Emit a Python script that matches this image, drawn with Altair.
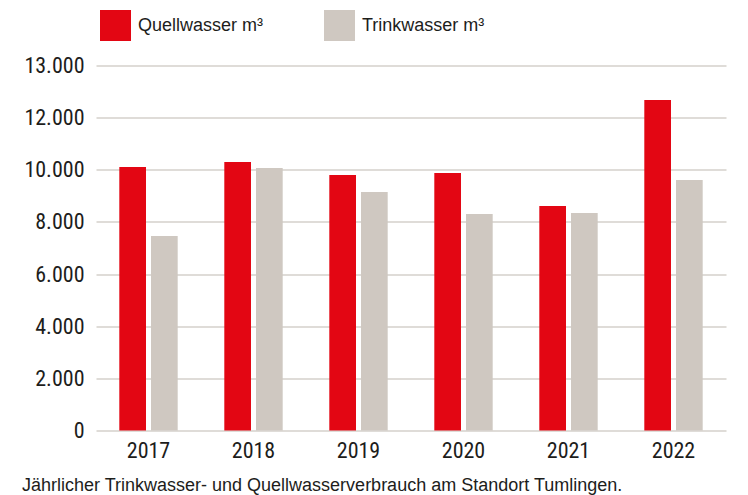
import altair as alt
import pandas as pd

# ---- data ----
years = ["2017", "2018", "2019", "2020", "2021", "2022"]
quellwasser = [10110, 10300, 9800, 9880, 8610, 12680]
trinkwasser = [7460, 10070, 9150, 8300, 8340, 9610]
series = ["Quellwasser m³", "Trinkwasser m³"]
colors = ["#e30613", "#cfc8c1"]
y_tick_values = [0, 2000, 4000, 6000, 8000, 10000, 12000, 14000]
y_tick_labels = ["0", "2.000", "4.000", "6.000", "8.000", "10.000", "12.000", "13.000"]
caption = "Jährlicher Trinkwasser- und Quellwasserverbrauch am Standort Tumlingen."

NARROW = "Liberation Sans Narrow, Arial Narrow, Roboto Condensed, sans-serif"
REGULAR = "Liberation Sans, Arial, Helvetica, sans-serif"
TEXT = "#1d1d1b"
GRID = "#d5d1cb"

rows = []
for i, yr in enumerate(years):
    rows.append({"Jahr": yr, "Serie": series[0], "Wert": quellwasser[i]})
    rows.append({"Jahr": yr, "Serie": series[1], "Wert": trinkwasser[i]})
df = pd.DataFrame(rows)

label_expr = "''"
for v, l in reversed(list(zip(y_tick_values, y_tick_labels))):
    label_expr = f"datum.value == {v} ? '{l}' : ({label_expr})"

chart = alt.Chart(df).mark_bar().encode(
    x=alt.X(
        "Jahr:N", sort=years,
        scale=alt.Scale(paddingInner=0, paddingOuter=0),
        axis=alt.Axis(title=None, labelAngle=0, ticks=False, domain=False,
                      labelFont=NARROW, labelFontSize=22, labelColor=TEXT,
                      labelPadding=10),
    ),
    xOffset=alt.XOffset(
        "Serie:N", sort=series,
        scale=alt.Scale(paddingInner=0.158, paddingOuter=0.735),
    ),
    y=alt.Y(
        "Wert:Q",
        scale=alt.Scale(domain=[0, 14000], nice=False),
        axis=alt.Axis(title=None, values=y_tick_values, labelExpr=label_expr,
                      ticks=False, domain=False, grid=True, gridColor=GRID,
                      gridWidth=1.5, labelFont=NARROW, labelFontSize=22,
                      labelColor=TEXT, labelPadding=12),
    ),
    color=alt.Color(
        "Serie:N", sort=series,
        scale=alt.Scale(domain=series, range=colors),
        legend=alt.Legend(title=None, orient="none", legendX=4, legendY=-55.5,
                          direction="horizontal", symbolType="square",
                          symbolSize=961, symbolStrokeWidth=0, symbolOpacity=1,
                          labelFont=REGULAR, labelFontSize=18, labelColor=TEXT,
                          labelOffset=7, columnPadding=60, padding=0),
    ),
).properties(
    width=630,
    height=365,
    autosize="none",
    padding={"left": 88, "top": 57.5, "right": 14, "bottom": 64},
    title=alt.TitleParams(caption, orient="bottom", anchor="start", frame="group",
                          dx=-74, offset=15, font=REGULAR, fontSize=18,
                          fontWeight="normal", color=TEXT),
).configure_view(stroke=None)

chart.save("out.html", embed_options={"renderer": "svg", "actions": False})
